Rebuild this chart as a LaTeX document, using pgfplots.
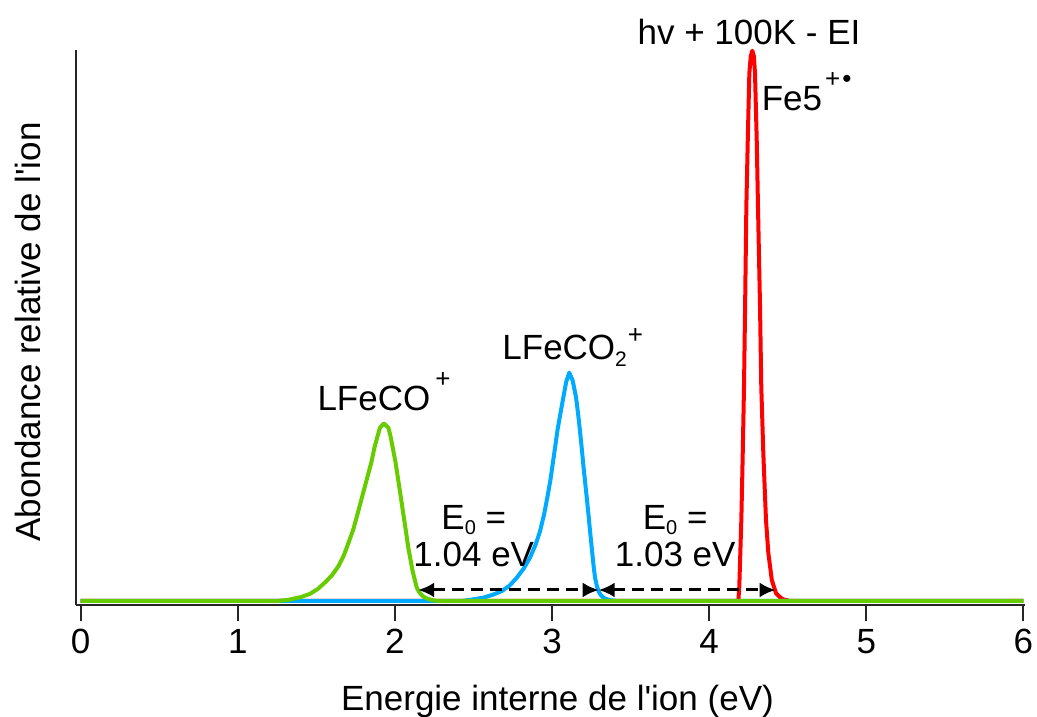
\documentclass[border=0pt]{standalone}
\usepackage{fontspec}
\setmainfont{Liberation Sans}
\usepackage{pgfplots}
\pgfplotsset{compat=1.18}
\usetikzlibrary{arrows.meta}
\definecolor{cgreen}{RGB}{102,204,0}
\definecolor{cblue}{RGB}{0,170,255}
\definecolor{cred}{RGB}{255,0,0}
\newcommand{\bigf}{\fontsize{35}{42}\selectfont}
\newcommand{\sps}[2]{\raisebox{#2}{\fontsize{26}{26}\selectfont #1}}
\newcommand{\sbs}[2]{\raisebox{-#2}{\fontsize{21}{21}\selectfont #1}}
\begin{document}
\begin{tikzpicture}
\path[use as bounding box] (-76pt,-112pt) rectangle (961pt,605pt);
\begin{axis}[
  at={(0pt,0pt)}, anchor=south west,
  scale only axis, width=948.9pt, height=555pt,
  xmin=-0.03, xmax=6.01, ymin=-0.0073, ymax=1.0013,
  axis x line*=bottom, axis y line*=left,
  axis line style={line width=2pt, black!85},
  xtick={0,1,2,3,4,5,6}, ytick=\empty,
  tick align=outside, major tick length=16pt,
  every tick/.style={line width=2pt, black!85},
  tick label style={font=\fontsize{35}{42}\selectfont},
  xticklabel style={yshift=-5pt},
  /pgf/number format/assume math mode=true,
  clip=false,
  xlabel={Energie interne de l\textquotesingle ion (eV)},
  ylabel={Abondance relative de l\textquotesingle ion},
  every axis x label/.style={at={(axis description cs:0.5074,-0.1892)}, anchor=base, font=\fontsize{35}{42}\selectfont},
  every axis y label/.style={at={(axis description cs:-0.0379,0.4919)}, rotate=90, anchor=base, font=\fontsize{35}{42}\selectfont},
]
\addplot[cred, line width=4pt, line join=round] coordinates {
(0,0) (4.186,0) (4.192,0.026) (4.205,0.147) (4.214,0.268) (4.222,0.389) (4.229,0.535)
(4.237,0.717) (4.246,0.838) (4.256,0.959) (4.265,0.99) (4.275,1.0) (4.285,0.99)
(4.292,0.959) (4.303,0.838) (4.311,0.717) (4.324,0.535) (4.332,0.389) (4.345,0.268)
(4.362,0.147) (4.377,0.087) (4.399,0.038) (4.426,0.014) (4.45,0.007) (4.472,0.003)
(4.515,0) (6,0)};
\addplot[cblue, line width=4pt, line join=round] coordinates {
(0,0) (2.42,0) (2.478,0.002) (2.52,0.004) (2.563,0.006) (2.62,0.011) (2.68,0.018)
(2.73,0.028) (2.775,0.042) (2.82,0.059) (2.86,0.079) (2.895,0.102) (2.924,0.127)
(2.95,0.158) (2.970,0.188) (2.99,0.220) (3.004,0.248) (3.02,0.280) (3.034,0.309)
(3.053,0.340) (3.072,0.370) (3.09,0.398) (3.110,0.415) (3.132,0.400) (3.153,0.370)
(3.166,0.340) (3.178,0.309) (3.189,0.278) (3.199,0.248) (3.210,0.218) (3.221,0.188)
(3.232,0.157) (3.242,0.127) (3.251,0.102) (3.259,0.079) (3.266,0.060) (3.274,0.042)
(3.285,0.028) (3.295,0.018) (3.31,0.011) (3.327,0.006) (3.35,0.003) (3.38,0.001)
(3.42,0) (6,0)};
\addplot[cgreen, line width=4pt, line join=round] coordinates {
(0,0) (1.25,0) (1.32,0.002) (1.40,0.007) (1.46,0.013) (1.51,0.022)
(1.56,0.035) (1.60,0.047) (1.64,0.063) (1.675,0.083) (1.705,0.106) (1.735,0.130) (1.76,0.156)
(1.79,0.188) (1.82,0.220) (1.85,0.252) (1.87,0.279) (1.89,0.300) (1.905,0.315)
(1.93,0.3225) (1.958,0.315) (1.97,0.302) (1.986,0.279) (2.005,0.250) (2.022,0.218)
(2.038,0.188) (2.054,0.157) (2.07,0.127) (2.085,0.097) (2.10,0.074) (2.113,0.054)
(2.127,0.038) (2.139,0.024) (2.155,0.016) (2.17,0.011) (2.181,0.008) (2.20,0.005)
(2.22,0.003) (2.245,0.001) (2.28,0) (6,0)};
% arrows
\draw[line width=3pt, dash pattern=on 12pt off 7pt, {Latex[length=16pt,width=15pt]}-{Latex[length=16pt,width=15pt]}]
  (axis cs:2.148,0.020) -- (axis cs:3.297,0.020);
\draw[line width=3pt, dash pattern=on 12pt off 7pt, {Latex[length=16pt,width=15pt]}-{Latex[length=16pt,width=15pt]}]
  (axis cs:3.297,0.020) -- (axis cs:4.423,0.020);
% labels
\node[anchor=base, inner sep=0pt, font=\bigf] at (axis cs:4.254,1.012) {hv + 100K - EI};
\node[anchor=base west, inner sep=0pt, font=\bigf] at (axis cs:4.334,0.892) {Fe5\kern3pt\sps{+\kern2pt•}{23pt}};
\node[anchor=base west, inner sep=0pt, font=\bigf] at (axis cs:1.506,0.347) {LFeCO\kern5pt\sps{+}{23pt}};
\node[anchor=base west, inner sep=0pt, font=\bigf] at (axis cs:2.683,0.438) {LFeCO\sbs{2}{7pt}\kern1pt\sps{+}{16pt}};
\node[anchor=base, inner sep=0pt, font=\bigf] at (axis cs:2.502,0.129) {E\raisebox{-5pt}{\fontsize{20}{20}\selectfont 0} =};
\node[anchor=base, inner sep=0pt, font=\bigf] at (axis cs:2.502,0.062) {1.04 eV};
\node[anchor=base, inner sep=0pt, font=\bigf] at (axis cs:3.784,0.129) {E\raisebox{-5pt}{\fontsize{20}{20}\selectfont 0} =};
\node[anchor=base, inner sep=0pt, font=\bigf] at (axis cs:3.784,0.062) {1.03 eV};
\end{axis}
\end{tikzpicture}
\end{document}
